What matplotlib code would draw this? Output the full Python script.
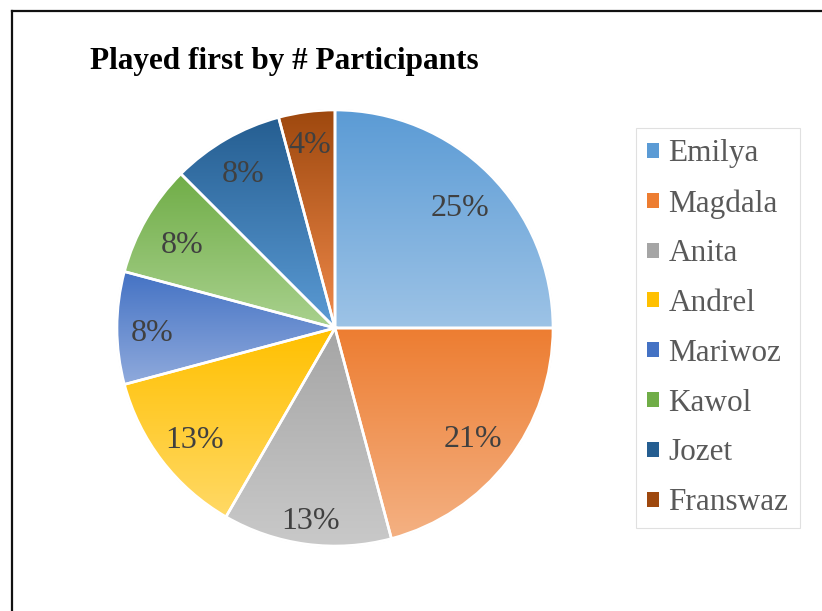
import math
import numpy as np
import matplotlib
matplotlib.use("Agg")
import matplotlib.pyplot as plt
from matplotlib.colors import to_rgb
from matplotlib.lines import Line2D
from matplotlib.patches import Patch, Circle

# data: number of participants who played each one first
names = ["Emilya", "Magdala", "Anita", "Andrel", "Mariwoz", "Kawol", "Jozet", "Franswaz"]
counts = [6, 5, 3, 3, 2, 2, 2, 1]
title = "Played first by # Participants"

# gradient colours per slice (top -> bottom)
top_cols = ["#5B9BD5", "#ED7D31", "#A5A5A5", "#FFC000", "#4472C4", "#70AD47", "#255E91", "#9E480E"]
bot_cols = ["#9DC3E6", "#F4B183", "#C9C9C9", "#FFD966", "#8FAADC", "#A9D18E", "#5B9BD5", "#F08A4B"]
# "best fit" label distance from the centre (fraction of radius)
lbl_dist = [0.81, 0.80, 0.87, 0.81, 0.84, 0.81, 0.84, 0.87]

plt.rcParams['font.family'] = ['Liberation Serif', 'DejaVu Serif']

W, H = 822, 611
fig = plt.figure(figsize=(W / 100, H / 100), dpi=100)

# pie centre / radius in pixels
cx, cy, r = 335, 328, 218
pad = 1.03
ax = fig.add_axes([(cx - r * pad) / W, (H - cy - r * pad) / H, 2 * r * pad / W, 2 * r * pad / H])


def pct_fmt(p):
    return "%d%%" % math.floor(p + 0.5)


wedges, texts, autotexts = ax.pie(counts, startangle=90, counterclock=False,
                                  radius=1.0, autopct=pct_fmt, pctdistance=0.83,
                                  colors=top_cols,
                                  wedgeprops=dict(edgecolor="white", linewidth=1.9),
                                  textprops=dict(fontsize=23, color="#404040"))

# fill every wedge with a vertical gradient clipped to the wedge shape
for w, c0, c1 in zip(wedges, top_cols, bot_cols):
    ext = w.get_path().get_extents()
    t = np.linspace(0, 1, 256)[:, None]
    grad = (1 - t) * np.array(to_rgb(c0)) + t * np.array(to_rgb(c1))
    img = ax.imshow(grad[:, None, :], extent=(ext.x0, ext.x1, ext.y0, ext.y1),
                    origin="upper", aspect="auto", zorder=1.5,
                    interpolation="bilinear")
    img.set_clip_path(w)
    w.set_facecolor("none")
    w.set_zorder(2)

# move percentage labels along the wedge bisector
for w, at, d in zip(wedges, autotexts, lbl_dist):
    mid = math.radians((w.theta1 + w.theta2) / 2)
    at.set_position((d * math.cos(mid), d * math.sin(mid) - 0.025))
    at.set_zorder(5)

ax.add_patch(Circle((0, 0), 1.0, fill=False, edgecolor="#E6E6E6", linewidth=1.2, zorder=1))
ax.set_xlim(-pad, pad)
ax.set_ylim(-pad, pad)
ax.set_aspect("equal")
ax.axis("off")

# title
fig.text(90 / W, 1 - 61 / H, title, fontsize=22.5, fontweight="bold", color="black",
         ha="left", va="center")

# legend
handles = [Patch(facecolor=c, edgecolor="none") for c in top_cols]
leg = fig.legend(handles, names, loc="upper left",
                 bbox_to_anchor=(636 / W, 1 - 128 / H),
                 fontsize=22.5, frameon=True, fancybox=False,
                 handlelength=0.36, handleheight=0.36, handletextpad=0.32,
                 labelspacing=0.665, borderpad=0.36, borderaxespad=0)
leg.get_frame().set_edgecolor("#D9D9D9")
leg.get_frame().set_linewidth(0.8)
for t in leg.get_texts():
    t.set_color("#595959")

# outer frame (top and left edges visible)
fx, fy = 12 / W, 1 - 11 / H
fig.add_artist(Line2D([fx, 1], [fy, fy], transform=fig.transFigure, color="#111111", linewidth=1.6))
fig.add_artist(Line2D([fx, fx], [0, fy], transform=fig.transFigure, color="#111111", linewidth=1.6))

fig.savefig("out.png", dpi=100)
